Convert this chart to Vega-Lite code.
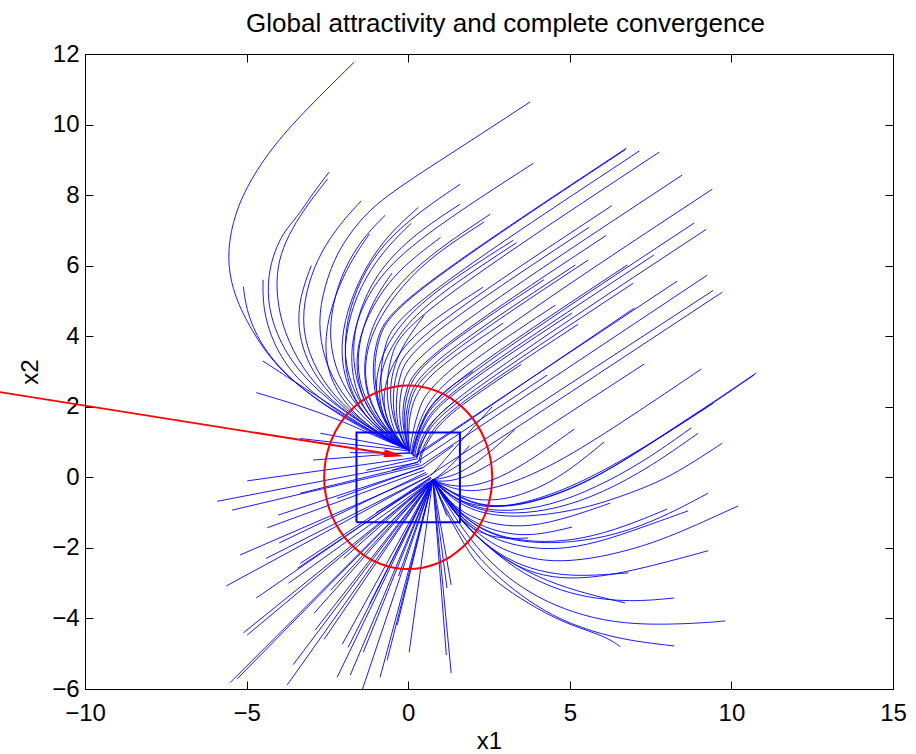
{
"$schema": "https://vega.github.io/schema/vega-lite/v6.json",
"width": 808, "height": 635,
"autosize": {"type": "none"},
"padding": {"left": 85, "top": 54, "right": 23, "bottom": 65},
"background": "white",
"config": {"view": {"stroke": "black", "strokeWidth": 1}, "font": "Liberation Sans"},
"datasets": {
"traj": [
{"t":1,"x":-1.67,"y":11.77},{"t":1,"x":-3.43,"y":10.18},{"t":1,"x":-4.33,"y":9.21},{"t":1,"x":-5.04,"y":8.19},{"t":1,"x":-5.45,"y":7.22},{"t":1,"x":-5.6,"y":6.23},{"t":1,"x":-5.45,"y":5.35},{"t":1,"x":-5.04,"y":4.46},{"t":1,"x":-4.27,"y":3.33},{"t":1,"x":-3.3,"y":2.5},{"t":1,"x":-2.1,"y":1.77},{"t":1,"x":-0.9,"y":1.17},{"t":1,"x":-0.05,"y":0.8},
{"t":2,"x":-2.45,"y":8.65},{"t":2,"x":-3.03,"y":7.95},{"t":2,"x":-3.43,"y":7.38},{"t":2,"x":-3.87,"y":6.95},{"t":2,"x":-4.21,"y":6.24},{"t":2,"x":-4.36,"y":5.5},{"t":2,"x":-4.3,"y":4.6},{"t":2,"x":-3.8,"y":3.5},{"t":2,"x":-3.0,"y":2.6},{"t":2,"x":-1.9,"y":1.8},{"t":2,"x":-0.8,"y":1.17},{"t":2,"x":-0.05,"y":0.8},
{"t":3,"x":-2.5,"y":8.45},{"t":3,"x":-3.1,"y":7.75},{"t":3,"x":-3.6,"y":7.05},{"t":3,"x":-3.95,"y":6.35},{"t":3,"x":-4.1,"y":5.6},{"t":3,"x":-4.0,"y":4.6},{"t":3,"x":-3.6,"y":3.6},{"t":3,"x":-2.9,"y":2.6},{"t":3,"x":-1.8,"y":1.75},{"t":3,"x":-0.7,"y":1.12},{"t":3,"x":-0.05,"y":0.8},
{"t":4,"x":-1.45,"y":7.84},{"t":4,"x":-2.1,"y":7.2},{"t":4,"x":-2.7,"y":6.4},{"t":4,"x":-3.1,"y":5.5},{"t":4,"x":-3.3,"y":4.5},{"t":4,"x":-3.1,"y":3.5},{"t":4,"x":-2.5,"y":2.5},{"t":4,"x":-1.6,"y":1.7},{"t":4,"x":-0.6,"y":1.08},{"t":4,"x":-0.05,"y":0.8},
{"t":5,"x":3.77,"y":10.64},{"t":5,"x":1.5,"y":9.28},{"t":5,"x":-0.68,"y":8.0},{"t":5,"x":-1.5,"y":7.3},{"t":5,"x":-2.2,"y":6.4},{"t":5,"x":-2.6,"y":5.4},{"t":5,"x":-2.8,"y":4.4},{"t":5,"x":-2.6,"y":3.3},{"t":5,"x":-2.1,"y":2.4},{"t":5,"x":-1.3,"y":1.6},{"t":5,"x":-0.5,"y":1.02},{"t":5,"x":-0.05,"y":0.8},
{"t":6,"x":-0.71,"y":7.43},{"t":6,"x":-1.4,"y":6.8},{"t":6,"x":-2.0,"y":5.9},{"t":6,"x":-2.35,"y":4.9},{"t":6,"x":-2.45,"y":3.9},{"t":6,"x":-2.2,"y":2.9},{"t":6,"x":-1.6,"y":2.0},{"t":6,"x":-0.8,"y":1.27},{"t":6,"x":-0.05,"y":0.8},
{"t":7,"x":1.61,"y":8.31},{"t":7,"x":0.3,"y":7.5},{"t":7,"x":-0.8,"y":6.6},{"t":7,"x":-1.5,"y":5.6},{"t":7,"x":-1.9,"y":4.5},{"t":7,"x":-2.0,"y":3.4},{"t":7,"x":-1.7,"y":2.4},{"t":7,"x":-1.1,"y":1.6},{"t":7,"x":-0.4,"y":1.02},{"t":7,"x":-0.05,"y":0.8},
{"t":8,"x":1.6,"y":7.74},{"t":8,"x":0.2,"y":6.9},{"t":8,"x":-0.9,"y":5.9},{"t":8,"x":-1.5,"y":4.8},{"t":8,"x":-1.75,"y":3.7},{"t":8,"x":-1.6,"y":2.6},{"t":8,"x":-1.1,"y":1.7},{"t":8,"x":-0.4,"y":1.07},{"t":8,"x":-0.05,"y":0.8},
{"t":9,"x":0.31,"y":7.65},{"t":9,"x":-0.6,"y":6.9},{"t":9,"x":-1.3,"y":6.0},{"t":9,"x":-1.8,"y":5.0},{"t":9,"x":-2.1,"y":3.9},{"t":9,"x":-2.0,"y":2.8},{"t":9,"x":-1.5,"y":1.9},{"t":9,"x":-0.7,"y":1.17},{"t":9,"x":-0.05,"y":0.8},
{"t":10,"x":0.09,"y":7.2},{"t":10,"x":-0.8,"y":6.4},{"t":10,"x":-1.5,"y":5.4},{"t":10,"x":-1.9,"y":4.3},{"t":10,"x":-2.0,"y":3.2},{"t":10,"x":-1.7,"y":2.2},{"t":10,"x":-1.0,"y":1.37},{"t":10,"x":-0.05,"y":0.8},
{"t":11,"x":3.87,"y":8.9},{"t":11,"x":1.5,"y":7.5},{"t":11,"x":-0.3,"y":6.3},{"t":11,"x":-1.2,"y":5.3},{"t":11,"x":-1.7,"y":4.2},{"t":11,"x":-1.8,"y":3.1},{"t":11,"x":-1.5,"y":2.1},{"t":11,"x":-0.9,"y":1.37},{"t":11,"x":-0.05,"y":0.8},
{"t":12,"x":2.54,"y":7.46},{"t":12,"x":0.8,"y":6.4},{"t":12,"x":-0.4,"y":5.4},{"t":12,"x":-1.1,"y":4.4},{"t":12,"x":-1.4,"y":3.3},{"t":12,"x":-1.3,"y":2.3},{"t":12,"x":-0.8,"y":1.47},{"t":12,"x":-0.05,"y":0.8},
{"t":13,"x":2.35,"y":7.24},{"t":13,"x":0.6,"y":6.2},{"t":13,"x":-0.5,"y":5.1},{"t":13,"x":-1.2,"y":4.0},{"t":13,"x":-1.4,"y":2.9},{"t":13,"x":-1.1,"y":1.9},{"t":13,"x":-0.5,"y":1.17},{"t":13,"x":-0.05,"y":0.8},
{"t":14,"x":3.25,"y":6.72},{"t":14,"x":1.5,"y":5.7},{"t":14,"x":0.2,"y":4.8},{"t":14,"x":-0.6,"y":3.9},{"t":14,"x":-1.0,"y":3.0},{"t":14,"x":-1.0,"y":2.1},{"t":14,"x":-0.6,"y":1.37},{"t":14,"x":-0.05,"y":0.8},
{"t":15,"x":-0.5,"y":5.79},{"t":15,"x":-1.1,"y":5.0},{"t":15,"x":-1.5,"y":4.0},{"t":15,"x":-1.6,"y":3.0},{"t":15,"x":-1.3,"y":2.1},{"t":15,"x":-0.7,"y":1.32},{"t":15,"x":-0.05,"y":0.8},
{"t":16,"x":2.32,"y":5.39},{"t":16,"x":0.8,"y":4.5},{"t":16,"x":-0.2,"y":3.7},{"t":16,"x":-0.7,"y":2.8},{"t":16,"x":-0.8,"y":2.0},{"t":16,"x":-0.5,"y":1.27},{"t":16,"x":-0.05,"y":0.8},
{"t":17,"x":-5.1,"y":5.4},{"t":17,"x":-5.0,"y":4.7},{"t":17,"x":-4.6,"y":3.8},{"t":17,"x":-3.8,"y":2.9},{"t":17,"x":-2.7,"y":2.1},{"t":17,"x":-1.5,"y":1.42},{"t":17,"x":-0.5,"y":0.97},{"t":17,"x":-0.05,"y":0.8},
{"t":18,"x":-4.49,"y":5.6},{"t":18,"x":-4.5,"y":4.8},{"t":18,"x":-4.2,"y":3.8},{"t":18,"x":-3.5,"y":2.8},{"t":18,"x":-2.4,"y":2.0},{"t":18,"x":-1.3,"y":1.37},{"t":18,"x":-0.05,"y":0.8},
{"t":19,"x":-4.5,"y":3.3},{"t":19,"x":-3.5,"y":2.7},{"t":19,"x":-2.3,"y":2.0},{"t":19,"x":-1.2,"y":1.32},{"t":19,"x":-0.05,"y":0.8},
{"t":20,"x":-4.7,"y":2.4},{"t":20,"x":-3.4,"y":2.05},{"t":20,"x":-2.1,"y":1.62},{"t":20,"x":-0.9,"y":1.12},{"t":20,"x":-0.05,"y":0.8},
{"t":21,"x":-3.0,"y":6.0},{"t":21,"x":-3.4,"y":5.0},{"t":21,"x":-3.4,"y":4.0},{"t":21,"x":-3.0,"y":3.0},{"t":21,"x":-2.2,"y":2.1},{"t":21,"x":-1.1,"y":1.32},{"t":21,"x":-0.05,"y":0.8},
{"t":22,"x":1.0,"y":6.8},{"t":22,"x":-0.3,"y":5.9},{"t":22,"x":-1.1,"y":4.9},{"t":22,"x":-1.6,"y":3.8},{"t":22,"x":-1.6,"y":2.7},{"t":22,"x":-1.2,"y":1.8},{"t":22,"x":-0.5,"y":1.12},{"t":22,"x":-0.05,"y":0.8},
{"t":23,"x":-1.2,"y":6.9},{"t":23,"x":-1.8,"y":6.1},{"t":23,"x":-2.3,"y":5.1},{"t":23,"x":-2.6,"y":4.0},{"t":23,"x":-2.5,"y":2.9},{"t":23,"x":-1.9,"y":2.0},{"t":23,"x":-1.0,"y":1.27},{"t":23,"x":-0.05,"y":0.8},
{"t":24,"x":0.5,"y":4.6},{"t":24,"x":-0.3,"y":3.6},{"t":24,"x":-0.6,"y":2.6},{"t":24,"x":-0.5,"y":1.7},{"t":24,"x":-0.2,"y":1.07},{"t":24,"x":-0.05,"y":0.8},
{"t":25,"x":6.75,"y":9.33},{"t":25,"x":-0.4,"y":5.0},{"t":25,"x":-1.0,"y":4.0},{"t":25,"x":-1.15,"y":2.8},{"t":25,"x":-0.85,"y":1.7},{"t":25,"x":-0.35,"y":1.05},{"t":25,"x":-0.05,"y":0.8},
{"t":26,"x":6.72,"y":9.29},{"t":26,"x":-0.35,"y":5.0},{"t":26,"x":-0.95,"y":4.0},{"t":26,"x":-1.1,"y":2.8},{"t":26,"x":-0.8,"y":1.7},{"t":26,"x":-0.33,"y":1.05},{"t":26,"x":-0.04,"y":0.8},
{"t":27,"x":7.15,"y":9.25},{"t":27,"x":-0.2,"y":4.8},{"t":27,"x":-0.75,"y":3.8},{"t":27,"x":-0.9,"y":2.7},{"t":27,"x":-0.7,"y":1.65},{"t":27,"x":-0.3,"y":1.02},{"t":27,"x":-0.04,"y":0.79},
{"t":28,"x":7.77,"y":9.22},{"t":28,"x":0.0,"y":4.52},{"t":28,"x":-0.55,"y":3.5},{"t":28,"x":-0.7,"y":2.5},{"t":28,"x":-0.55,"y":1.55},{"t":28,"x":-0.25,"y":1.0},{"t":28,"x":-0.03,"y":0.78},
{"t":29,"x":8.48,"y":8.57},{"t":29,"x":0.3,"y":3.62},{"t":29,"x":-0.2,"y":2.7},{"t":29,"x":-0.3,"y":1.9},{"t":29,"x":-0.2,"y":1.25},{"t":29,"x":0.0,"y":0.76},
{"t":30,"x":9.41,"y":8.17},{"t":30,"x":0.8,"y":2.96},{"t":30,"x":0.3,"y":1.9},{"t":30,"x":0.1,"y":1.1},{"t":30,"x":0.05,"y":0.7},
{"t":31,"x":8.85,"y":7.21},{"t":31,"x":1.0,"y":2.46},{"t":31,"x":0.45,"y":1.6},{"t":31,"x":0.2,"y":0.95},{"t":31,"x":0.12,"y":0.64},
{"t":32,"x":9.22,"y":7.03},{"t":32,"x":1.1,"y":2.12},{"t":32,"x":0.55,"y":1.3},{"t":32,"x":0.28,"y":0.58},
{"t":33,"x":5.6,"y":7.09},{"t":33,"x":0.2,"y":3.82},{"t":33,"x":-0.3,"y":2.9},{"t":33,"x":-0.4,"y":2.0},{"t":33,"x":-0.3,"y":1.3},{"t":33,"x":-0.02,"y":0.78},
{"t":34,"x":6.13,"y":6.86},{"t":34,"x":0.4,"y":3.39},{"t":34,"x":-0.1,"y":2.5},{"t":34,"x":-0.2,"y":1.7},{"t":34,"x":-0.1,"y":1.15},{"t":34,"x":0.02,"y":0.74},
{"t":35,"x":6.78,"y":6.02},{"t":35,"x":1.0,"y":2.52},{"t":35,"x":0.45,"y":1.65},{"t":35,"x":0.2,"y":0.98},{"t":35,"x":0.14,"y":0.62},
{"t":36,"x":5.57,"y":6.16},{"t":36,"x":0.55,"y":3.12},{"t":36,"x":0.05,"y":2.25},{"t":36,"x":-0.05,"y":1.5},{"t":36,"x":0.0,"y":1.05},{"t":36,"x":0.04,"y":0.72},
{"t":37,"x":5.17,"y":6.02},{"t":37,"x":0.5,"y":3.19},{"t":37,"x":0.0,"y":2.3},{"t":37,"x":-0.1,"y":1.55},{"t":37,"x":-0.05,"y":1.1},{"t":37,"x":0.03,"y":0.73},
{"t":38,"x":9.25,"y":5.73},{"t":38,"x":0.4,"y":0.33},
{"t":39,"x":9.44,"y":5.3},{"t":39,"x":0.65,"y":0.05},
{"t":40,"x":9.72,"y":5.25},{"t":40,"x":1.2,"y":0.1},{"t":40,"x":0.76,"y":-0.07},
{"t":41,"x":8.32,"y":5.56},{"t":41,"x":0.17,"y":0.6},
{"t":42,"x":6.96,"y":5.5},{"t":42,"x":1.2,"y":2.02},{"t":42,"x":0.6,"y":1.3},{"t":42,"x":0.3,"y":0.8},{"t":42,"x":0.27,"y":0.5},
{"t":43,"x":5.07,"y":4.66},{"t":43,"x":1.1,"y":2.26},{"t":43,"x":0.5,"y":1.5},{"t":43,"x":0.25,"y":0.9},{"t":43,"x":0.2,"y":0.56},
{"t":44,"x":5.26,"y":4.34},{"t":44,"x":1.2,"y":1.9},{"t":44,"x":0.65,"y":1.2},{"t":44,"x":0.38,"y":0.7},{"t":44,"x":0.33,"y":0.43},
{"t":45,"x":2.94,"y":4.37},{"t":45,"x":0.6,"y":2.95},{"t":45,"x":0.1,"y":2.1},{"t":45,"x":0.0,"y":1.4},{"t":45,"x":0.03,"y":0.71},
{"t":46,"x":4.55,"y":4.88},{"t":46,"x":1.0,"y":2.73},{"t":46,"x":0.4,"y":1.75},{"t":46,"x":0.15,"y":1.0},{"t":46,"x":0.09,"y":0.66},
{"t":47,"x":7.6,"y":6.3},{"t":47,"x":1.05,"y":2.34},{"t":47,"x":0.5,"y":1.55},{"t":47,"x":0.22,"y":0.95},{"t":47,"x":0.16,"y":0.6},
{"t":48,"x":6.3,"y":7.7},{"t":48,"x":0.1,"y":3.95},{"t":48,"x":-0.4,"y":3.0},{"t":48,"x":-0.5,"y":2.1},{"t":48,"x":-0.35,"y":1.35},{"t":48,"x":-0.03,"y":0.79},
{"t":49,"x":4.2,"y":5.6},{"t":49,"x":0.45,"y":3.33},{"t":49,"x":-0.05,"y":2.45},{"t":49,"x":-0.15,"y":1.65},{"t":49,"x":-0.08,"y":1.12},{"t":49,"x":0.02,"y":0.75},
{"t":50,"x":7.0,"y":4.8},{"t":50,"x":0.22,"y":0.58},
{"t":51,"x":3.5,"y":3.2},{"t":51,"x":1.2,"y":1.8},{"t":51,"x":0.65,"y":1.1},{"t":51,"x":0.4,"y":0.65},{"t":51,"x":0.38,"y":0.4},
{"t":52,"x":4.3,"y":2.9},{"t":52,"x":0.29,"y":0.45},
{"t":53,"x":2.0,"y":3.0},{"t":53,"x":0.8,"y":2.27},{"t":53,"x":0.35,"y":1.45},{"t":53,"x":0.17,"y":0.9},{"t":53,"x":0.12,"y":0.66},
{"t":54,"x":1.5,"y":2.2},{"t":54,"x":0.7,"y":1.6},{"t":54,"x":0.35,"y":1.0},{"t":54,"x":0.25,"y":0.55},
{"t":55,"x":3.35,"y":6.65},{"t":55,"x":1.6,"y":5.6},{"t":55,"x":0.3,"y":4.7},{"t":55,"x":-0.5,"y":3.8},{"t":55,"x":-0.9,"y":2.9},{"t":55,"x":-0.9,"y":2.0},{"t":55,"x":-0.55,"y":1.3},{"t":55,"x":-0.05,"y":0.8},
{"t":56,"x":10.77,"y":2.96},{"t":56,"x":9.44,"y":2.13},{"t":56,"x":8.11,"y":1.34},{"t":56,"x":6.87,"y":0.58},{"t":56,"x":5.63,"y":-0.08},{"t":56,"x":4.39,"y":-0.56},{"t":56,"x":3.16,"y":-0.84},{"t":56,"x":2.13,"y":-0.79},{"t":56,"x":1.39,"y":-0.45},{"t":56,"x":0.76,"y":-0.07},
{"t":57,"x":10.7,"y":2.9},{"t":57,"x":9.4,"y":2.08},{"t":57,"x":8.0,"y":1.25},{"t":57,"x":6.7,"y":0.48},{"t":57,"x":5.5,"y":-0.15},{"t":57,"x":4.3,"y":-0.6},{"t":57,"x":3.1,"y":-0.86},{"t":57,"x":2.1,"y":-0.8},{"t":57,"x":1.37,"y":-0.46},{"t":57,"x":0.76,"y":-0.07},
{"t":58,"x":9.07,"y":3.07},{"t":58,"x":6.87,"y":1.71},{"t":58,"x":4.8,"y":0.49},{"t":58,"x":3.25,"y":-0.17},{"t":58,"x":2.01,"y":-0.45},{"t":58,"x":1.2,"y":-0.27},{"t":58,"x":0.76,"y":-0.07},
{"t":59,"x":7.3,"y":3.21},{"t":59,"x":5.1,"y":1.9},{"t":59,"x":3.25,"y":0.78},{"t":59,"x":1.92,"y":0.01},{"t":59,"x":1.08,"y":-0.14},{"t":59,"x":0.76,"y":-0.07},
{"t":60,"x":9.44,"y":2.1},{"t":60,"x":7.5,"y":0.95},{"t":60,"x":5.6,"y":-0.05},{"t":60,"x":4.0,"y":-0.65},{"t":60,"x":2.6,"y":-0.9},{"t":60,"x":1.6,"y":-0.7},{"t":60,"x":1.0,"y":-0.3},{"t":60,"x":0.76,"y":-0.07},
{"t":61,"x":9.72,"y":0.97},{"t":61,"x":8.11,"y":0.0},{"t":61,"x":6.87,"y":-0.45},{"t":61,"x":5.63,"y":-0.84},{"t":61,"x":4.3,"y":-1.07},{"t":61,"x":3.06,"y":-1.13},{"t":61,"x":2.13,"y":-0.99},{"t":61,"x":1.39,"y":-0.65},{"t":61,"x":0.76,"y":-0.07},
{"t":62,"x":8.97,"y":1.25},{"t":62,"x":7.5,"y":0.3},{"t":62,"x":6.0,"y":-0.45},{"t":62,"x":4.6,"y":-0.9},{"t":62,"x":3.3,"y":-1.05},{"t":62,"x":2.2,"y":-0.95},{"t":62,"x":1.4,"y":-0.6},{"t":62,"x":0.76,"y":-0.07},
{"t":63,"x":8.76,"y":1.4},{"t":63,"x":7.3,"y":0.45},{"t":63,"x":5.8,"y":-0.3},{"t":63,"x":4.4,"y":-0.8},{"t":63,"x":3.1,"y":-0.98},{"t":63,"x":2.1,"y":-0.88},{"t":63,"x":1.35,"y":-0.55},{"t":63,"x":0.76,"y":-0.07},
{"t":64,"x":6.06,"y":1.0},{"t":64,"x":4.8,"y":0.05},{"t":64,"x":3.6,"y":-0.5},{"t":64,"x":2.5,"y":-0.7},{"t":64,"x":1.6,"y":-0.55},{"t":64,"x":1.0,"y":-0.25},{"t":64,"x":0.76,"y":-0.07},
{"t":65,"x":5.14,"y":1.37},{"t":65,"x":3.9,"y":0.55},{"t":65,"x":2.8,"y":-0.05},{"t":65,"x":1.8,"y":-0.3},{"t":65,"x":1.1,"y":-0.2},{"t":65,"x":0.76,"y":-0.07},
{"t":66,"x":3.3,"y":1.35},{"t":66,"x":2.4,"y":0.6},{"t":66,"x":1.6,"y":0.1},{"t":66,"x":1.0,"y":-0.04},{"t":66,"x":0.76,"y":-0.07},
{"t":67,"x":2.6,"y":2.0},{"t":67,"x":1.6,"y":1.0},{"t":67,"x":1.0,"y":0.35},{"t":67,"x":0.7,"y":0.05},
{"t":68,"x":1.9,"y":0.9},{"t":68,"x":1.3,"y":0.3},{"t":68,"x":0.9,"y":0.0},{"t":68,"x":0.76,"y":-0.07},
{"t":69,"x":6.56,"y":-4.8},{"t":69,"x":6.1,"y":-4.5},{"t":69,"x":4.8,"y":-4.13},{"t":69,"x":3.68,"y":-3.56},{"t":69,"x":2.75,"y":-3.0},{"t":69,"x":2.01,"y":-2.34},{"t":69,"x":1.61,"y":-1.69},{"t":69,"x":1.08,"y":-0.84},{"t":69,"x":0.76,"y":-0.07},
{"t":70,"x":8.23,"y":-4.78},{"t":70,"x":7.1,"y":-4.66},{"t":70,"x":6.03,"y":-4.47},{"t":70,"x":4.7,"y":-4.05},{"t":70,"x":3.68,"y":-3.48},{"t":70,"x":2.8,"y":-2.85},{"t":70,"x":2.05,"y":-2.15},{"t":70,"x":1.5,"y":-1.4},{"t":70,"x":1.05,"y":-0.7},{"t":70,"x":0.76,"y":-0.07},
{"t":71,"x":9.81,"y":-4.07},{"t":71,"x":9.13,"y":-4.13},{"t":71,"x":7.39,"y":-4.19},{"t":71,"x":6.03,"y":-4.07},{"t":71,"x":4.8,"y":-3.74},{"t":71,"x":3.77,"y":-3.29},{"t":71,"x":2.75,"y":-2.62},{"t":71,"x":1.92,"y":-1.77},{"t":71,"x":1.3,"y":-0.93},{"t":71,"x":0.76,"y":-0.07},
{"t":72,"x":8.23,"y":-3.42},{"t":72,"x":6.87,"y":-3.54},{"t":72,"x":5.32,"y":-3.39},{"t":72,"x":4.08,"y":-3.0},{"t":72,"x":3.06,"y":-2.43},{"t":72,"x":2.13,"y":-1.69},{"t":72,"x":1.39,"y":-0.93},{"t":72,"x":0.76,"y":-0.07},
{"t":73,"x":6.81,"y":-2.71},{"t":73,"x":5.32,"y":-2.81},{"t":73,"x":4.3,"y":-2.72},{"t":73,"x":3.25,"y":-2.43},{"t":73,"x":2.32,"y":-1.86},{"t":73,"x":1.61,"y":-1.21},{"t":73,"x":1.05,"y":-0.5},{"t":73,"x":0.76,"y":-0.07},
{"t":74,"x":9.28,"y":-2.08},{"t":74,"x":7.89,"y":-2.43},{"t":74,"x":6.34,"y":-2.77},{"t":74,"x":5.0,"y":-2.9},{"t":74,"x":3.9,"y":-2.75},{"t":74,"x":2.9,"y":-2.3},{"t":74,"x":2.0,"y":-1.6},{"t":74,"x":1.3,"y":-0.8},{"t":74,"x":0.76,"y":-0.07},
{"t":75,"x":10.21,"y":-0.81},{"t":75,"x":8.11,"y":-1.69},{"t":75,"x":6.87,"y":-2.06},{"t":75,"x":5.63,"y":-2.32},{"t":75,"x":4.49,"y":-2.4},{"t":75,"x":3.56,"y":-2.26},{"t":75,"x":2.75,"y":-1.98},{"t":75,"x":2.01,"y":-1.5},{"t":75,"x":1.39,"y":-0.84},{"t":75,"x":0.76,"y":-0.07},
{"t":76,"x":9.28,"y":-0.45},{"t":76,"x":7.89,"y":-1.13},{"t":76,"x":6.47,"y":-1.63},{"t":76,"x":5.01,"y":-1.86},{"t":76,"x":3.77,"y":-1.86},{"t":76,"x":2.75,"y":-1.69},{"t":76,"x":1.92,"y":-1.3},{"t":76,"x":1.3,"y":-0.7},{"t":76,"x":0.76,"y":-0.07},
{"t":77,"x":8.66,"y":-0.95},{"t":77,"x":7.27,"y":-1.41},{"t":77,"x":5.85,"y":-1.86},{"t":77,"x":4.61,"y":-2.06},{"t":77,"x":3.47,"y":-1.98},{"t":77,"x":2.5,"y":-1.7},{"t":77,"x":1.7,"y":-1.2},{"t":77,"x":1.1,"y":-0.55},{"t":77,"x":0.76,"y":-0.07},
{"t":78,"x":8.01,"y":-0.9},{"t":78,"x":6.7,"y":-1.4},{"t":78,"x":5.4,"y":-1.75},{"t":78,"x":4.2,"y":-1.85},{"t":78,"x":3.1,"y":-1.75},{"t":78,"x":2.2,"y":-1.45},{"t":78,"x":1.5,"y":-0.95},{"t":78,"x":1.0,"y":-0.4},{"t":78,"x":0.76,"y":-0.07},
{"t":79,"x":6.25,"y":-0.73},{"t":79,"x":5.01,"y":-1.13},{"t":79,"x":3.77,"y":-1.41},{"t":79,"x":2.75,"y":-1.36},{"t":79,"x":1.92,"y":-1.13},{"t":79,"x":1.3,"y":-0.73},{"t":79,"x":0.76,"y":-0.07},
{"t":80,"x":5.07,"y":-1.41},{"t":80,"x":3.77,"y":-1.69},{"t":80,"x":2.75,"y":-1.55},{"t":80,"x":1.95,"y":-1.25},{"t":80,"x":1.3,"y":-0.75},{"t":80,"x":0.76,"y":-0.07},
{"t":81,"x":3.71,"y":-1.72},{"t":81,"x":2.8,"y":-1.75},{"t":81,"x":2.0,"y":-1.5},{"t":81,"x":1.35,"y":-0.95},{"t":81,"x":0.76,"y":-0.07},
{"t":82,"x":6.71,"y":-3.56},{"t":82,"x":5.5,"y":-3.3},{"t":82,"x":4.3,"y":-2.95},{"t":82,"x":3.2,"y":-2.45},{"t":82,"x":2.3,"y":-1.85},{"t":82,"x":1.55,"y":-1.15},{"t":82,"x":0.76,"y":-0.07},
{"t":83,"x":-5.91,"y":-0.68},{"t":83,"x":0.3,"y":0.42},
{"t":84,"x":-4.98,"y":-0.1},{"t":84,"x":0.2,"y":0.56},
{"t":85,"x":-5.45,"y":-0.93},{"t":85,"x":0.4,"y":0.33},
{"t":86,"x":-2.94,"y":0.49},{"t":86,"x":0.06,"y":0.7},
{"t":87,"x":-4.02,"y":-1.07},{"t":87,"x":0.45,"y":0.27},
{"t":88,"x":-4.36,"y":-1.43},{"t":88,"x":0.5,"y":0.2},
{"t":89,"x":-3.99,"y":-1.86},{"t":89,"x":0.55,"y":0.14},
{"t":90,"x":-5.63,"y":-3.08},{"t":90,"x":0.65,"y":0.04},
{"t":91,"x":-4.7,"y":-3.42},{"t":91,"x":0.7,"y":-0.01},
{"t":92,"x":-5.1,"y":-4.41},{"t":92,"x":0.76,"y":-0.07},
{"t":93,"x":-4.98,"y":-4.47},{"t":93,"x":0.76,"y":-0.07},
{"t":94,"x":-5.51,"y":-5.82},{"t":94,"x":0.76,"y":-0.07},
{"t":95,"x":-5.29,"y":-5.71},{"t":95,"x":0.76,"y":-0.07},
{"t":96,"x":-3.74,"y":-5.88},{"t":96,"x":0.76,"y":-0.07},
{"t":97,"x":-3.56,"y":-5.31},{"t":97,"x":0.76,"y":-0.07},
{"t":98,"x":-2.91,"y":-3.85},{"t":98,"x":0.76,"y":-0.07},
{"t":99,"x":-2.88,"y":-4.33},{"t":99,"x":0.76,"y":-0.07},
{"t":100,"x":-2.6,"y":-4.59},{"t":100,"x":0.76,"y":-0.07},
{"t":101,"x":-2.2,"y":-5.67},{"t":101,"x":0.76,"y":-0.07},
{"t":102,"x":-1.79,"y":-5.6},{"t":102,"x":0.76,"y":-0.07},
{"t":103,"x":-2.04,"y":-4.73},{"t":103,"x":0.76,"y":-0.07},
{"t":104,"x":-1.86,"y":-4.82},{"t":104,"x":0.76,"y":-0.07},
{"t":105,"x":-1.45,"y":-6.1},{"t":105,"x":0.76,"y":-0.07},
{"t":106,"x":-1.39,"y":-4.96},{"t":106,"x":0.76,"y":-0.07},
{"t":107,"x":-0.87,"y":-5.67},{"t":107,"x":0.76,"y":-0.07},
{"t":108,"x":-0.65,"y":-5.18},{"t":108,"x":0.76,"y":-0.07},
{"t":109,"x":-0.34,"y":-4.19},{"t":109,"x":0.76,"y":-0.07},
{"t":110,"x":0.03,"y":-4.96},{"t":110,"x":0.76,"y":-0.07},
{"t":111,"x":-3.43,"y":-2.58},{"t":111,"x":0.72,"y":-0.03},
{"t":112,"x":-3.34,"y":-2.44},{"t":112,"x":0.7,"y":0.0},
{"t":113,"x":1.2,"y":-3.14},{"t":113,"x":0.76,"y":-0.07},
{"t":114,"x":1.33,"y":-3.05},{"t":114,"x":0.76,"y":-0.07},
{"t":115,"x":1.18,"y":-5.04},{"t":115,"x":0.76,"y":-0.07},
{"t":116,"x":1.33,"y":-5.55},{"t":116,"x":0.76,"y":-0.07},
{"t":117,"x":-3.34,"y":1.1},{"t":117,"x":0.0,"y":0.75},
{"t":118,"x":-2.72,"y":1.25},{"t":118,"x":-0.05,"y":0.8},
{"t":119,"x":-3.34,"y":-0.45},{"t":119,"x":0.35,"y":0.38},
{"t":120,"x":-1.0,"y":-1.0},{"t":120,"x":0.76,"y":-0.07},
{"t":121,"x":-0.5,"y":0.2},{"t":121,"x":0.3,"y":0.44},
{"t":122,"x":1.4,"y":0.9},{"t":122,"x":0.45,"y":0.27},
{"t":123,"x":-1.3,"y":0.2},{"t":123,"x":0.25,"y":0.52},
{"t":124,"x":1.2,"y":-1.1},{"t":124,"x":0.76,"y":-0.07},
{"t":125,"x":-4.4,"y":-2.3},{"t":125,"x":0.65,"y":0.04},
{"t":126,"x":-3.7,"y":-3.0},{"t":126,"x":0.76,"y":-0.07},
{"t":127,"x":-2.4,"y":-3.2},{"t":127,"x":0.76,"y":-0.07},
{"t":128,"x":-1.2,"y":-3.6},{"t":128,"x":0.76,"y":-0.07},
{"t":129,"x":-0.3,"y":-2.8},{"t":129,"x":0.76,"y":-0.07},
{"t":130,"x":-2.0,"y":-2.3},{"t":130,"x":0.76,"y":-0.07},
{"t":131,"x":-5.2,"y":-2.2},{"t":131,"x":0.6,"y":0.1},
{"t":132,"x":-2.2,"y":-0.6},{"t":132,"x":0.45,"y":0.28},
{"t":133,"x":-1.8,"y":0.7},{"t":133,"x":0.1,"y":0.68}
],
"sq": [{"x":-1.6,"y":-1.27},{"x":1.6,"y":-1.27},{"x":1.6,"y":1.27},{"x":-1.6,"y":1.27},{"x":-1.6,"y":-1.27}],
"circ": [
{"x":2.6,"y":0},{"x":2.56,"y":0.451},{"x":2.443,"y":0.889},{"x":2.252,"y":1.3},{"x":1.992,"y":1.671},{"x":1.671,"y":1.992},{"x":1.3,"y":2.252},{"x":0.889,"y":2.443},{"x":0.451,"y":2.56},{"x":0,"y":2.6},
{"x":-0.451,"y":2.56},{"x":-0.889,"y":2.443},{"x":-1.3,"y":2.252},{"x":-1.671,"y":1.992},{"x":-1.992,"y":1.671},{"x":-2.252,"y":1.3},{"x":-2.443,"y":0.889},{"x":-2.56,"y":0.451},{"x":-2.6,"y":0},
{"x":-2.56,"y":-0.451},{"x":-2.443,"y":-0.889},{"x":-2.252,"y":-1.3},{"x":-1.992,"y":-1.671},{"x":-1.671,"y":-1.992},{"x":-1.3,"y":-2.252},{"x":-0.889,"y":-2.443},{"x":-0.451,"y":-2.56},{"x":0,"y":-2.6},
{"x":0.451,"y":-2.56},{"x":0.889,"y":-2.443},{"x":1.3,"y":-2.252},{"x":1.671,"y":-1.992},{"x":1.992,"y":-1.671},{"x":2.252,"y":-1.3},{"x":2.443,"y":-0.889},{"x":2.56,"y":-0.451},{"x":2.6,"y":0}
],
"arr": [{"x":-12.85,"y":2.449},{"x":-0.44,"y":0.64}],
"head": [{"x":-0.44,"y":0.64}]
},
"layer": [
{"data": {"name": "traj"},
 "mark": {"type": "line", "stroke": "#0000ff", "strokeWidth": 0.9, "interpolate": "basis", "clip": true},
 "encoding": {
  "x": {"field": "x", "type": "quantitative", "scale": {"domain": [-10, 15], "nice": false, "zero": false},
        "axis": {"orient": "bottom", "values": [-10, -5, 0, 5, 10, 15], "grid": false, "tickSize": -8, "tickColor": "black", "domainColor": "black", "labelColor": "black", "labelFont": "Liberation Sans", "labelFontSize": 24, "labelPadding": 20, "labelFlush": false, "labelOverlap": false, "title": "x1", "titleFont": "Liberation Sans", "titleFontSize": 24, "titleFontWeight": "normal", "titleColor": "black", "titlePadding": 4}},
  "y": {"field": "y", "type": "quantitative", "scale": {"domain": [-6, 12], "nice": false, "zero": false},
        "axis": {"orient": "left", "values": [-6, -4, -2, 0, 2, 4, 6, 8, 10, 12], "grid": false, "tickSize": -8, "tickColor": "black", "domainColor": "black", "labelColor": "black", "labelFont": "Liberation Sans", "labelFontSize": 24, "labelPadding": 14, "labelFlush": false, "labelOverlap": false, "title": "x2", "titleFont": "Liberation Sans", "titleFontSize": 24, "titleFontWeight": "normal", "titleColor": "black", "titlePadding": 9}},
  "detail": {"field": "t", "type": "nominal"},
  "order": {"value": null}
 }},
{"data": {"name": "sq"},
 "mark": {"type": "line", "stroke": "#0000ff", "strokeWidth": 2},
 "encoding": {
  "x": {"field": "x", "type": "quantitative", "axis": {"orient": "top", "values": [-10, -5, 0, 5, 10, 15], "grid": false, "labels": false, "tickSize": -8, "tickColor": "black", "domainColor": "black", "title": "Global attractivity and complete convergence", "titleFont": "Liberation Sans", "titleFontSize": 26, "titleFontWeight": "normal", "titleColor": "black", "titlePadding": 17, "titleX": 420}},
  "y": {"field": "y", "type": "quantitative", "axis": {"orient": "right", "values": [-6, -4, -2, 0, 2, 4, 6, 8, 10, 12], "grid": false, "labels": false, "tickSize": -8, "tickColor": "black", "domainColor": "black", "title": null}},
  "order": {"value": null}
 }},
{"data": {"name": "circ"},
 "mark": {"type": "line", "stroke": "#ff0000", "strokeWidth": 2, "interpolate": "cardinal"},
 "encoding": {
  "x": {"field": "x", "type": "quantitative", "axis": null},
  "y": {"field": "y", "type": "quantitative", "axis": null},
  "order": {"value": null}
 }},
{"data": {"name": "arr"},
 "mark": {"type": "line", "stroke": "#ff0000", "strokeWidth": 1.8, "clip": false},
 "encoding": {
  "x": {"field": "x", "type": "quantitative", "axis": null},
  "y": {"field": "y", "type": "quantitative", "axis": null},
  "order": {"value": null}
 }},
{"data": {"name": "head"},
 "mark": {"type": "point", "shape": "M -1 -0.4 L 1 0 L -1 0.4 Z", "filled": true, "fill": "#ff0000", "strokeWidth": 0, "opacity": 1, "size": 400, "angle": 9},
 "encoding": {
  "x": {"field": "x", "type": "quantitative", "axis": null},
  "y": {"field": "y", "type": "quantitative", "axis": null}
 }}
],
"resolve": {"axis": {"x": "independent", "y": "independent"}}
}
